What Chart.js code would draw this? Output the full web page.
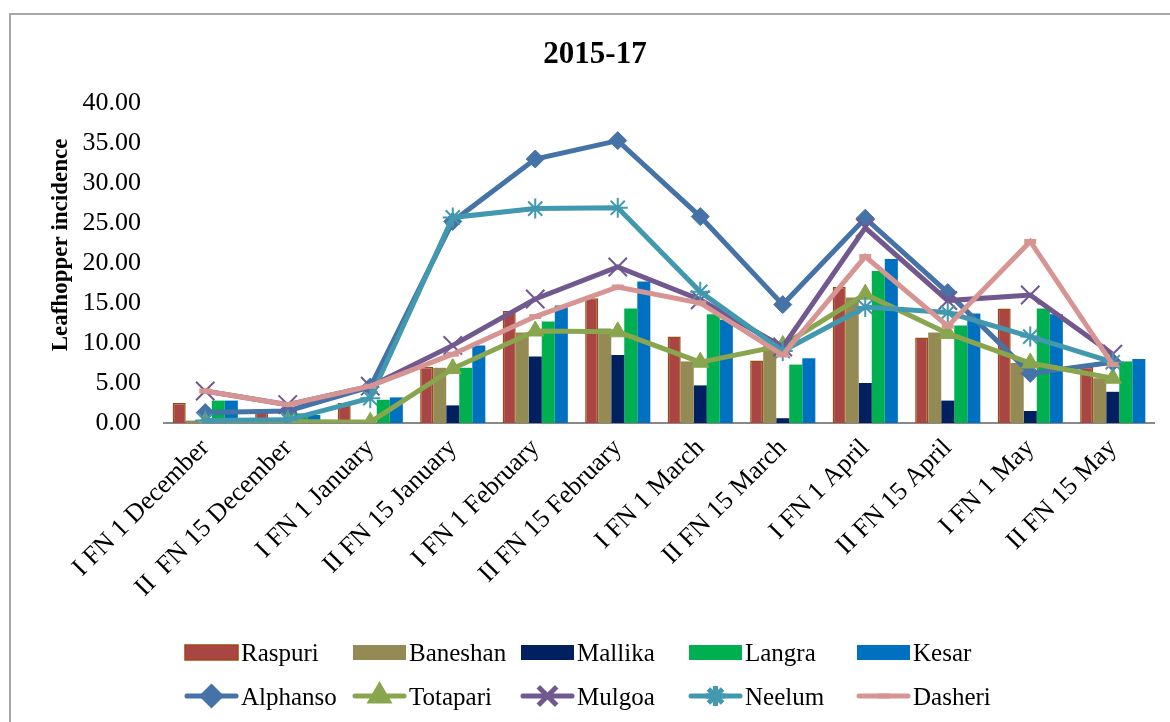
<!DOCTYPE html>
<html>
<head>
<meta charset="utf-8">
<title>2015-17 Leafhopper incidence</title>
<script src="https://cdn.jsdelivr.net/npm/chart.js@4.4.1/dist/chart.umd.min.js"></script>
<style>
  html, body { margin: 0; padding: 0; background: #fff; }
  #chart { display: block; }
</style>
</head>
<body>
<canvas id="chart" width="1170" height="722"></canvas>
<script>
(function () {
    'use strict';

    /* ---------- data ---------- */
    var fortnights = ['I FN 1 December', 'II  FN 15 December', 'I FN 1 January', 'II FN 15 January',
        'I FN 1 February', 'II FN 15 February', 'I FN 1 March', 'II FN 15 March',
        'I FN 1 April', 'II FN 15 April', 'I FN 1 May', 'II FN 15 May'];

    var yTicks = [0, 5, 10, 15, 20, 25, 30, 35, 40];

    // bar series
    var raspuri  = [2.5, 1.3, 2.5, 7.0, 14.0, 15.6, 10.8, 7.8, 17.0, 10.7, 14.3, 7.0];
    var baneshan = [0.3, 0.3, 0.4, 6.9, 11.3, 11.8, 7.7, 10.3, 15.7, 11.3, 7.5, 5.6];
    var mallika  = [0.1, 0.1, 0.1, 2.2, 8.3, 8.5, 4.7, 0.6, 5.0, 2.8, 1.5, 3.9];
    var langra   = [2.8, 1.2, 2.9, 6.9, 12.7, 14.3, 13.6, 7.3, 19.0, 12.2, 14.3, 7.7];
    var kesar    = [2.8, 1.0, 3.2, 9.7, 14.7, 17.7, 12.9, 8.1, 20.5, 13.7, 13.6, 8.0];

    // line series
    var alphanso = [1.3, 1.5, 4.5, 25.2, 33.0, 35.3, 25.8, 14.8, 25.6, 16.3, 6.2, 7.6];
    var totapari = [0.1, 0.2, 0.1, 6.8, 11.5, 11.4, 7.6, 9.7, 16.1, 11.2, 7.5, 5.6];
    var mulgoa   = [4.0, 2.3, 4.6, 9.7, 15.5, 19.5, 15.4, 9.5, 24.4, 15.3, 16.0, 8.6];
    var neelum   = [0.3, 0.4, 3.1, 25.7, 26.8, 26.9, 16.4, 9.0, 14.5, 13.8, 10.8, 7.6];
    var dasheri  = [4.0, 2.3, 4.6, 8.6, 13.3, 17.0, 15.0, 8.5, 20.8, 12.1, 22.7, 7.3];

    var serif = '"Liberation Serif", "Times New Roman", serif';

    function bar(label, data, color, border) {
        return {
            type: 'bar',
            label: label,
            data: data,
            backgroundColor: color,
            borderColor: border || color,
            borderWidth: border ? 1.5 : 0,
            order: 10
        };
    }

    function line(label, data, color, style, radius, order) {
        return {
            type: 'line',
            label: label,
            data: data,
            borderColor: color,
            backgroundColor: color,
            borderWidth: 5,
            pointStyle: style,
            pointRadius: radius,
            pointBorderWidth: style === 'crossRot' || style === 'star' ? 2 : (style === 'line' ? 5 : 1),
            pointBorderColor: color,
            pointBackgroundColor: color,
            tension: 0,
            fill: false,
            order: order
        };
    }

    var datasets = [
        bar('Raspuri', raspuri, '#A94643', '#9A4B10'),
        bar('Baneshan', baneshan, '#948A54'),
        bar('Mallika', mallika, '#002060'),
        bar('Langra', langra, '#00B050'),
        bar('Kesar', kesar, '#0070C0'),
        line('Alphanso', alphanso, '#4572A7', 'rectRot', 9, 5),
        line('Totapari', totapari, '#89A54E', 'triangle', 10, 4),
        line('Mulgoa', mulgoa, '#71588F', 'crossRot', 13, 3),
        line('Neelum', neelum, '#4198AF', 'star', 10, 2),
        line('Dasheri', dasheri, '#D69492', 'line', 6, 1)
    ];

    /* ---------- title, axis title, legend, frame ---------- */
    var decor = {
        id: 'decor',
        afterDraw: function (chart) {
            var ctx = chart.ctx;
            ctx.save();

            ctx.strokeStyle = '#a6a6a6';
            ctx.lineWidth = 2;
            ctx.strokeRect(10, 14, 1200, 800);

            ctx.fillStyle = '#000';
            ctx.font = 'bold 31px ' + serif;
            ctx.textAlign = 'center';
            ctx.textBaseline = 'alphabetic';
            ctx.fillText('2015-17', 595, 63);

            ctx.save();
            ctx.translate(61, 245);
            ctx.rotate(-Math.PI / 2);
            ctx.font = 'bold 23px ' + serif;
            ctx.textBaseline = 'middle';
            ctx.fillText('Leafhopper incidence', 0, 0);
            ctx.restore();

            ctx.font = '25px ' + serif;
            ctx.textAlign = 'left';
            ctx.textBaseline = 'alphabetic';
            chart.data.datasets.forEach(function (ds, i) {
                var isBar = ds.type === 'bar';
                var col = isBar ? i : i - 5;
                var x = 185 + col * 168;
                if (isBar) {
                    ctx.fillStyle = ds.backgroundColor;
                    ctx.fillRect(x, 645, 53, 15);
                    if (ds.borderWidth) {
                        ctx.strokeStyle = ds.borderColor;
                        ctx.lineWidth = ds.borderWidth;
                        ctx.strokeRect(x, 645, 53, 15);
                    }
                } else {
                    ctx.strokeStyle = ds.borderColor;
                    ctx.fillStyle = ds.borderColor;
                    ctx.lineWidth = 5;
                    ctx.lineCap = 'round';
                    ctx.beginPath();
                    ctx.moveTo(x + 2, 696);
                    ctx.lineTo(x + 51, 696);
                    ctx.stroke();
                    ctx.lineCap = 'butt';
                    Chart.helpers.drawPoint(ctx, {
                        pointStyle: ds.pointStyle,
                        radius: ds.pointRadius,
                        borderWidth: ds.pointBorderWidth,
                        rotation: 0
                    }, x + 26.5, 696);
                }
                ctx.fillStyle = '#000';
                ctx.fillText(ds.label, x + 56, isBar ? 661 : 705);
            });

            ctx.restore();
        }
    };

    /* ---------- chart ---------- */
    new Chart(document.getElementById('chart').getContext('2d'), {
        data: {
            labels: fortnights,
            datasets: datasets
        },
        options: {
            responsive: false,
            animation: false,
            devicePixelRatio: 1,
            layout: { padding: { top: 103, right: 16, bottom: 0, left: 0 } },
            datasets: {
                bar: { categoryPercentage: 0.79, barPercentage: 1.0 }
            },
            plugins: {
                legend: { display: false },
                title: { display: false },
                tooltip: { enabled: false }
            },
            scales: {
                x: {
                    grid: { display: false, drawTicks: false },
                    border: { display: true, color: '#898989', width: 2 },
                    ticks: {
                        color: '#000',
                        font: { family: serif, size: 26 },
                        minRotation: 45,
                        maxRotation: 45,
                        autoSkip: false,
                        padding: 10,
                        labelOffset: 0
                    },
                    afterFit: function (scale) { scale.height = 299; }
                },
                y: {
                    min: yTicks[0],
                    max: yTicks[yTicks.length - 1],
                    grid: { display: false, drawTicks: false },
                    border: { display: false },
                    ticks: {
                        stepSize: yTicks[1] - yTicks[0],
                        color: '#000',
                        font: { family: serif, size: 26 },
                        padding: 23,
                        callback: function (v) { return v.toFixed(2); }
                    },
                    afterFit: function (scale) { scale.width = 164; }
                }
            }
        },
        plugins: [decor]
    });
})();
</script>
</body>
</html>
